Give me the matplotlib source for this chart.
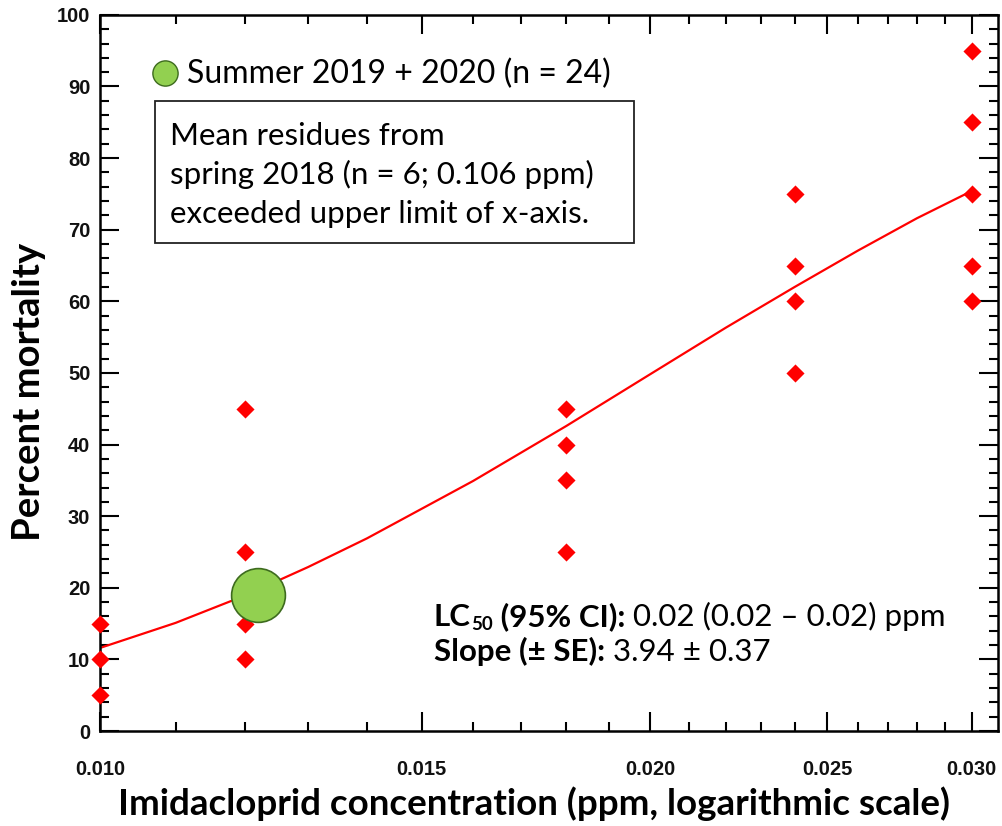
import matplotlib.pyplot as plt
from matplotlib.patches import Rectangle
from matplotlib.ticker import FixedLocator, NullFormatter
from matplotlib.transforms import offset_copy

# bioassay data: concentration (ppm) and percent mortality of each replicate
conc = [0.010, 0.012, 0.018, 0.024, 0.030]
mortality = [
    [5, 10, 15],
    [10, 15, 25, 45],
    [25, 35, 40, 45],
    [50, 60, 65, 75],
    [60, 65, 75, 85, 95],
]

# probit fit line
fit_conc = [0.010, 0.011, 0.012, 0.013, 0.014, 0.016, 0.018, 0.020, 0.022, 0.024, 0.026, 0.028, 0.030]
fit_mort = [11.6, 15.1, 18.9, 22.9, 26.9, 34.9, 42.6, 49.8, 56.3, 62.0, 67.1, 71.6, 75.4]

# summer 2019 + 2020 mean residue
summer_conc = [0.0122]
summer_mort = [19]

note_lines = ['Mean residues from', 'spring 2018 (n = 6; 0.106 ppm)', 'exceeded upper limit of x-axis.']

x_ticks = [0.010, 0.015, 0.020, 0.025, 0.030]
x_labels = ['0.010', '0.015', '0.020', '0.025', '0.030']
y_ticks = list(range(0, 101, 10))

label_font = 'Lato'
tick_font = 'Liberation Sans'
green = '#92d050'
green_edge = '#3d6b1e'

fig = plt.figure(figsize=(10.03, 8.26), dpi=100)
ax = fig.add_axes([0.0997, 0.115, 0.895, 0.867])
renderer = fig.canvas.get_renderer()

xs = [c for c, vals in zip(conc, mortality) for _ in vals]
ys = [v for vals in mortality for v in vals]
ax.scatter(xs, ys, marker='D', s=85, color='#ff0000', zorder=3, clip_on=False, linewidths=0)
ax.plot(fit_conc, fit_mort, color='#ff0000', lw=1.6, zorder=2)
ax.scatter(summer_conc, summer_mort, s=1500, color=green, edgecolor=green_edge, linewidths=1.2, zorder=4)

ax.set_xscale('log')
ax.set_xlim(0.010, 0.031)
ax.set_ylim(0, 100)

ax.xaxis.set_major_locator(FixedLocator(x_ticks))
ax.set_xticklabels(x_labels)
minor = [0.011, 0.012, 0.013, 0.014, 0.016, 0.017, 0.018, 0.019,
         0.021, 0.022, 0.023, 0.024, 0.026, 0.027, 0.028, 0.029]
ax.xaxis.set_minor_locator(FixedLocator(minor))
ax.xaxis.set_minor_formatter(NullFormatter())
ax.set_yticks(y_ticks)
ax.yaxis.set_minor_locator(FixedLocator(range(0, 101, 2)))

for s in ax.spines.values():
    s.set_linewidth(1.8)
ax.tick_params(which='both', direction='in', top=True, right=True, width=1.5)
ax.tick_params(which='major', length=14)
ax.tick_params(which='minor', length=6.5)
ax.tick_params(axis='x', which='major', pad=21)
ax.tick_params(axis='y', which='major', pad=7)
for lab in ax.get_xticklabels() + ax.get_yticklabels():
    lab.set_fontfamily(tick_font)
    lab.set_fontweight('bold')
    lab.set_fontsize(14.5)
    lab.set_color('#111111')

ax.set_xlabel('Imidacloprid concentration (ppm, logarithmic scale)', fontfamily=label_font,
              fontweight='bold', fontsize=26.5)
ax.xaxis.set_label_coords(0.483, -0.077)
ax.set_ylabel('Percent mortality', fontfamily=label_font, fontweight='bold', fontsize=27.5)
ax.yaxis.set_label_coords(-0.060, 0.473)

# legend entry drawn by hand
ax.scatter([0.0724], [0.919], s=330, color=green, edgecolor=green_edge, linewidths=1.0,
           transform=ax.transAxes, zorder=5, clip_on=False)
ax.text(0.097, 0.918, 'Summer 2019 + 2020 (n = 24)', transform=ax.transAxes,
        fontfamily=label_font, fontsize=23, va='center', ha='left')

# note box, one text per line so the baselines sit where the reference has them
ax.add_patch(Rectangle((0.0612, 0.682), 0.5335, 0.198, transform=ax.transAxes,
                       facecolor='white', edgecolor='#222222', linewidth=1.3, zorder=5))
for i, line in enumerate(note_lines):
    ax.text(0.0780, 0.8184 - i * 0.0545, line, transform=ax.transAxes, fontfamily=label_font,
            fontsize=22.5, va='baseline', ha='left', zorder=6)


def rich_line(x, y, parts):
    # parts: (text, weight, size, baseline shift in px), placed one after another
    dx = 0
    for txt, weight, size, dy in parts:
        tr = offset_copy(ax.transAxes, fig=fig, x=dx, y=dy, units='dots')
        t = ax.text(x, y, txt, transform=tr, fontfamily=label_font, fontsize=size,
                    fontweight=weight, va='baseline', ha='left')
        dx += t.get_window_extent(renderer).width


fs = 22.5
rich_line(0.372, 0.1466, [('LC', 'bold', fs, 0), ('50', 'bold', fs * 0.6, -4),
                          (' (95% CI):', 'bold', fs, 0),
                          (' 0.02 (0.02 \u2013 0.02) ppm', 'normal', fs, 0)])
rich_line(0.372, 0.0978, [('Slope (\u00b1 SE):', 'bold', fs, 0),
                          (' 3.94 \u00b1 0.37', 'normal', fs, 0)])

fig.savefig('out.png', dpi=100)
